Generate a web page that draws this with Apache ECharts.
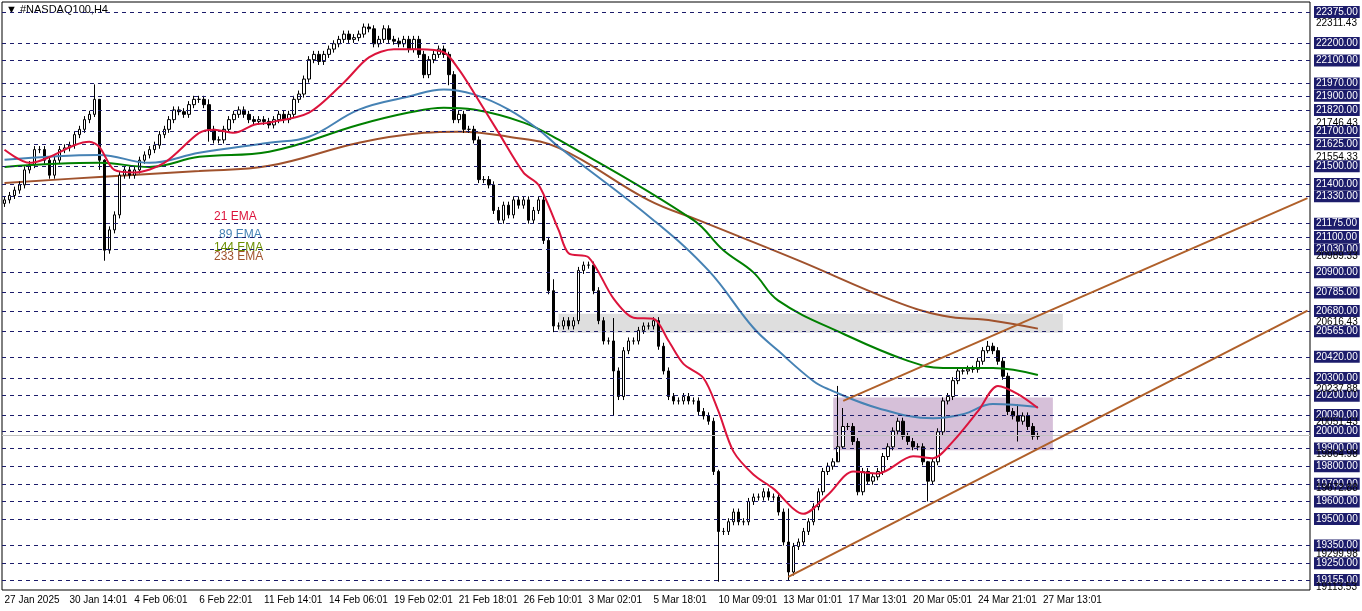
<!DOCTYPE html>
<html>
<head>
<meta charset="utf-8">
<script src="https://cdn.jsdelivr.net/npm/echarts@6/dist/echarts.min.js"></script>
<style>html,body{margin:0;padding:0;background:#fff}#main{width:1362px;height:611px}</style>
</head>
<body>
<div id="main"></div>
<script>
// H4 closes, one per bar
var closes = [21310,21335,21365,21395,21480,21510,21595,21595,21535,21450,21535,21595,21605,21620,21680,21710,21765,21795,21880,21535,
21025,21140,21225,21450,21480,21450,21480,21535,21565,21595,21620,21680,21710,21765,21820,21810,21795,21850,21880,21880,
21850,21710,21650,21650,21710,21765,21795,21820,21795,21765,21755,21765,21755,21735,21765,21795,21765,21795,21880,21910,
21995,22105,22135,22095,22135,22165,22195,22220,22250,22220,22230,22250,22290,22280,22195,22220,22280,22220,22210,22195,
22220,22165,22220,22135,22020,22105,22135,22165,22135,22020,21765,21795,21710,21710,21650,21425,21425,21395,21250,21195,
21280,21225,21310,21280,21310,21195,21250,21310,21080,20795,20595,20595,20625,20595,20625,20910,20940,20940,20795,20625,
20510,20510,20340,20195,20455,20510,20510,20570,20595,20595,20625,20480,20340,20195,20170,20170,20195,20170,20170,20110,
20085,20055,19770,19430,19430,19485,19540,19485,19485,19600,19625,19625,19655,19625,19625,19540,19370,19200,19345,19370,
19430,19485,19570,19655,19770,19800,19825,19910,20025,20025,19940,19655,19770,19715,19740,19770,19855,19910,20000,20055,
19970,19940,19910,19910,19825,19715,19825,19995,20170,20195,20285,20340,20340,20350,20350,20395,20455,20480,20455,20395,
20310,20110,20085,20055,20085,20025,19970,19970];
var firstOpen = 21290;
// long wicks: [bar, high, low]
var spikes = [[18,21965,21780],[19,21880,21480],[20,21540,20965],[41,21880,21640],[89,22150,21960],[110,20860,20560],
[122,20640,20085],[143,19780,19145],[157,19560,19155],[167,20255,19880],[168,20130,19900],[185,19830,19600],[197,20510,20440],[203,20150,19940]];

var ema21 = [[0,21594],[5,21520],[17,21640],[19,21610],[22,21480],[26,21465],[32,21520],[39,21690],[42,21708],[46,21690],[50,21736],
[53,21748],[61,21805],[68,21976],[73,22118],[78,22164],[83,22164],[88,22147],[91,22050],[94,21919],[99,21690],[104,21463],[107,21394],
[111,21138],[113,21007],[117,20984],[122,20750],[126,20642],[130,20636],[133,20511],[136,20380],[140,20300],[143,20112],[146,19884],
[150,19753],[154,19673],[160,19530],[165,19640],[170,19770],[175,19759],[182,19856],[186,19845],[190,19941],[195,20112],[199,20255],
[203,20209],[207,20130]];
var ema89 = [[0,21537],[19,21565],[29,21520],[39,21577],[53,21634],[61,21668],[71,21822],[81,21896],[88,21936],[94,21908],[101,21822],
[107,21708],[111,21611],[130,21195],[141,20910],[150,20585],[155,20454],[162,20283],[165,20237],[175,20129],[186,20072],[192,20095],
[198,20152],[207,20135]];
var ema144 = [[0,21497],[19,21520],[29,21497],[39,21554],[53,21583],[71,21736],[81,21805],[88,21833],[94,21822],[104,21748],[111,21651],
[138,21195],[144,21024],[150,20899],[155,20739],[168,20551],[181,20397],[188,20357],[198,20357],[207,20317]];
var ema233 = [[0,21406],[19,21440],[39,21474],[53,21503],[71,21634],[84,21690],[91,21697],[101,21668],[111,21605],[129,21309],[139,21195],
[159,20967],[178,20739],[188,20653],[198,20625],[207,20580]];

var upperTrend = [[167.7,20170],[261,21320]];
var lowerTrend = [[157.1,19172],[261,20682]];
var grayZone = [[110.7,20665],[211.5,20557]];
var purpleZone = [[165.5,20190],[210.4,19890]];

var boxLevels = [22375,22200,22100,21970,21900,21820,21700,21625,21500,21400,21330,21175,21100,21030,20900,20785,20680,20565,
20420,20300,20200,20090,20000,19900,19800,19700,19600,19500,19350,19250,19155];
var plainLevels = [22311.43,21746.43,21554.33,20989.33,20616.43,20237.88,20051.43,19864.98,19672.88,19299.98,19113.53];
var timeTicks = ['27 Jan 2025','30 Jan 14:01','4 Feb 06:01','6 Feb 22:01','11 Feb 14:01','14 Feb 06:01','19 Feb 02:01','21 Feb 18:01',
'26 Feb 10:01','3 Mar 02:01','5 Mar 18:01','10 Mar 09:01','13 Mar 01:01','17 Mar 13:01','20 Mar 05:01','24 Mar 21:01','27 Mar 13:01'];
var nCats = 262, tickStep = 13;

var cats = [];
for (var i = 0; i < nCats; i++) cats.push(String(i));
var candles = [];
for (var i = 0; i < closes.length; i++) {
    var o = i == 0 ? firstOpen : closes[i - 1], c = closes[i];
    candles.push([o, c, Math.min(o, c) - 20, Math.max(o, c) + 20]);
}
spikes.forEach(function (s) { candles[s[0]][3] = s[1]; candles[s[0]][2] = s[2]; });

var font = 'Liberation Sans';
var myChart = echarts.init(document.getElementById('main'));
var option = {
    animation: false,
    textStyle: {fontFamily: font},
    grid: {left: 2, right: 52, top: 2, bottom: 21, show: true, borderColor: '#000', borderWidth: 1},
    graphic: [
        {type: 'text', left: 6, top: 4, style: {text: '▼ #NASDAQ100,H4', font: '11px ' + font, fill: '#000'}},
        {type: 'text', left: 214, top: 211, style: {text: '21 EMA', font: '12px ' + font, fill: '#dc143c'}},
        {type: 'text', left: 219, top: 229, style: {text: '89 EMA', font: '12px ' + font, fill: '#4682b4'}},
        {type: 'text', left: 214, top: 242, style: {text: '144 EMA', font: '12px ' + font, fill: '#6b8e00'}},
        {type: 'text', left: 214, top: 251, style: {text: '233 EMA', font: '12px ' + font, fill: '#a0522d'}}
    ],
    xAxis: {
        type: 'category', data: cats, boundaryGap: true,
        axisLine: {show: false}, axisTick: {show: false}, splitLine: {show: false},
        axisLabel: {
            interval: function (idx) { return idx % tickStep == 0 && idx / tickStep < timeTicks.length; },
            formatter: function (v) { return timeTicks[Number(v) / tickStep] || ''; },
            align: 'left', margin: 5, fontSize: 10, color: '#000'
        }
    },
    yAxis: {type: 'value', min: 19098, max: 22432, show: false, splitLine: {show: false}},
    series: [
        {
            type: 'candlestick', data: candles, barWidth: 3,
            itemStyle: {color: '#fff', color0: '#000', borderColor: '#000', borderColor0: '#000', borderWidth: 1},
            markArea: {
                silent: true,
                data: [
                    [{xAxis: grayZone[0][0], yAxis: grayZone[0][1], itemStyle: {color: 'rgba(200,200,200,0.6)'}}, {xAxis: grayZone[1][0], yAxis: grayZone[1][1]}],
                    [{xAxis: purpleZone[0][0], yAxis: purpleZone[0][1], itemStyle: {color: 'rgba(180,140,185,0.55)'}}, {xAxis: purpleZone[1][0], yAxis: purpleZone[1][1]}]
                ]
            },
            markLine: {
                silent: true, symbol: 'none',
                lineStyle: {color: '#1c1c6b', type: [4, 4], width: 1},
                label: {position: 'end', distance: 4, color: '#fff', backgroundColor: '#1c1c6b', padding: [1, 2], fontSize: 10,
                    formatter: function (p) { return p.value.toFixed(2); }},
                data: boxLevels.map(function (v) { return {yAxis: v}; })
                    .concat([{yAxis: 19975, lineStyle: {color: '#c0c0c0', type: 'solid'}, label: {show: false}}])
            },
            z: 3
        },
        {
            type: 'line', data: ema233, symbol: 'none', smooth: 0.4, lineStyle: {color: '#a0522d', width: 2}, z: 2,
            markLine: {
                silent: true, symbol: 'none', lineStyle: {color: 'rgba(0,0,0,0)', width: 0.1},
                label: {show: true, position: 'end', distance: 6, color: '#000', fontSize: 10, formatter: function (p) { return p.value.toFixed(2); }},
                data: plainLevels.map(function (v) { return {yAxis: v}; })
            }
        },
        {type: 'line', data: ema144, symbol: 'none', smooth: 0.4, lineStyle: {color: '#008000', width: 2}, z: 4},
        {type: 'line', data: ema89, symbol: 'none', smooth: 0.4, lineStyle: {color: '#4682b4', width: 2}, z: 4},
        {type: 'line', data: ema21, symbol: 'none', smooth: 0.3, lineStyle: {color: '#dc143c', width: 2}, z: 5},
        {type: 'line', data: upperTrend, symbol: 'none', lineStyle: {color: '#b0602a', width: 2}, z: 5},
        {type: 'line', data: lowerTrend, symbol: 'none', lineStyle: {color: '#b0602a', width: 2}, z: 5}
    ]
};
myChart.setOption(option);
</script>
</body>
</html>
